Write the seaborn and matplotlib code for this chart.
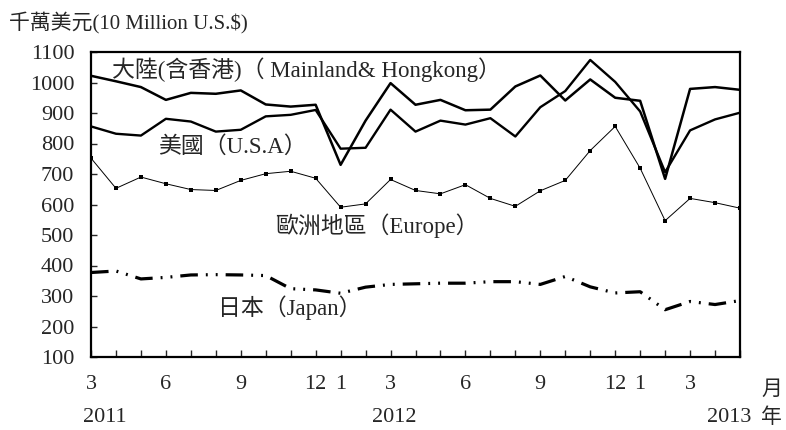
import pandas as pd
import seaborn as sns
import matplotlib.pyplot as plt

# Meses: mar/2011 a mai/2013
meses = [3, 4, 5, 6, 7, 8, 9, 10, 11, 12,
         1, 2, 3, 4, 5, 6, 7, 8, 9, 10, 11, 12,
         1, 2, 3, 4, 5]
meses_rotulados = [3, 6, 9, 12, 1]
anos = ["2011", "2012", "2013"]

mainland = [1022, 1004, 985, 943, 966, 963, 974, 928, 921, 927,
            730, 875, 998, 927, 943, 909, 911, 987, 1023, 941, 1010, 950,
            940, 684, 979, 985, 976]
usa = [856, 832, 826, 881, 872, 839, 845, 889, 894, 910,
       783, 786, 911, 839, 875, 862, 883, 823, 919, 972, 1074, 1002,
       905, 706, 843, 879, 901]
europe = [752, 653, 690, 668, 649, 646, 679, 701, 709, 686,
          591, 602, 682, 646, 635, 665, 620, 594, 645, 679, 777, 856,
          719, 547, 620, 606, 588]
japan = [377, 382, 356, 361, 369, 370, 369, 367, 324, 320,
         309, 329, 338, 340, 342, 342, 347, 347, 338, 364, 330, 310,
         314, 255, 282, 272, 285]

df = pd.DataFrame({"idx": range(len(meses)), "mes": meses,
                   "mainland": mainland, "usa": usa,
                   "europe": europe, "japan": japan})

sns.set_style("ticks")
plt.rcParams["font.family"] = ["Liberation Serif", "Noto Sans CJK TC"]

fig = plt.figure(figsize=(7.86, 4.30), dpi=100)
ax = fig.add_axes([91 / 786, 73 / 430, 649 / 786, 305 / 430])

sns.lineplot(data=df, x="idx", y="mainland", ax=ax, color="black", lw=1.8)
sns.lineplot(data=df, x="idx", y="usa", ax=ax, color="black", lw=1.7)
sns.lineplot(data=df, x="idx", y="europe", ax=ax, color="black", lw=0.7,
             marker="s", markersize=3.5, markeredgewidth=0)
sns.lineplot(data=df, x="idx", y="japan", ax=ax, color="black", lw=2.3,
             linestyle=(0, (5.5, 2.5, 0.6, 2.5, 0.6, 2.5)))

ax.set_xlim(0, len(meses) - 1)
ax.set_ylim(100, 1100)
ax.set_xlabel("")
ax.set_ylabel("")

# Eixo x: marcas em todos os meses, rótulo só em alguns
rotulos = []
for i, m in enumerate(meses):
    if m in meses_rotulados:
        rotulos.append(str(m))
    else:
        rotulos.append("")
ax.set_xticks(df["idx"])
ax.set_xticklabels(rotulos)
ax.set_yticks(range(100, 1101, 100))

ax.tick_params(axis="x", direction="in", length=5, width=1, pad=13, labelsize=16)
ax.tick_params(axis="y", direction="in", length=4, width=1, pad=12, labelsize=16)
for s in ax.spines.values():
    s.set_visible(True)
    s.set_linewidth(1.6)
    s.set_color("black")

# Anos
trans = ax.get_xaxis_transform()
for x_ano, ano in zip([0.56, 12.16, 25.56], anos):
    ax.text(x_ano, -0.2, ano, transform=trans, ha="center", va="center", fontsize=16)
ax.text(1.049, -0.108, "月", transform=ax.transAxes, ha="center", va="center", fontsize=15)
ax.text(1.049, -0.2, "年", transform=ax.transAxes, ha="center", va="center", fontsize=15)

# Títulos das séries
ax.text(0.032, 0.941, "大陸(含香港)（ Mainland& Hongkong）", transform=ax.transAxes,
        ha="left", va="center", fontsize=16.5)
ax.text(0.103, 0.689, "美國（U.S.A）", transform=ax.transAxes,
        ha="left", va="center", fontsize=16.5)
ax.text(0.2835, 0.430, "歐洲地區（Europe）", transform=ax.transAxes,
        ha="left", va="center", fontsize=16.5)
ax.text(0.196, 0.161, "日本（Japan）", transform=ax.transAxes,
        ha="left", va="center", fontsize=16.5)

fig.text(9 / 786, 1 - 22 / 430, "千萬美元(10 Million U.S.$)", ha="left", va="center", fontsize=15)

fig.savefig("out.png", dpi=100)
